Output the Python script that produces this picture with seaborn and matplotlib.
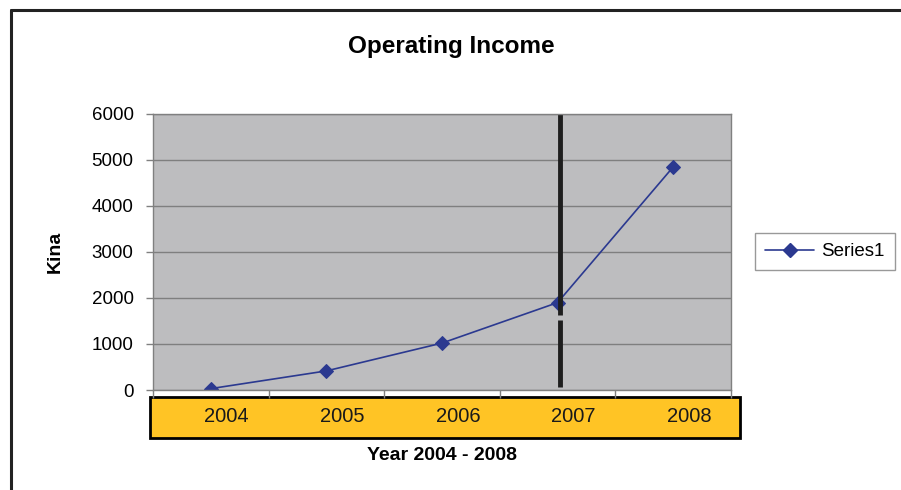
import numpy as np
import pandas as pd
import matplotlib
matplotlib.use("Agg")
import matplotlib.pyplot as plt
import matplotlib.transforms as mtrans
import seaborn as sns
from matplotlib.patches import Rectangle
from matplotlib.lines import Line2D

years = ["2004", "2005", "2006", "2007", "2008"]
income = [30, 415, 1020, 1900, 4850]
y_ticks = [0, 1000, 2000, 3000, 4000, 5000, 6000]

df = pd.DataFrame({"Year": years, "Kina": income})
df["pos"] = np.arange(len(years))

sns.set_style("white")
plt.rcParams["font.family"] = ["Liberation Sans", "DejaVu Sans"]
plt.rcParams["text.color"] = "black"
plt.rcParams["axes.labelcolor"] = "black"
plt.rcParams["xtick.labelcolor"] = "#1a1a1a"
plt.rcParams["ytick.labelcolor"] = "black"

fig = plt.figure(figsize=(9.01, 4.90), dpi=100)
ax = fig.add_axes([153 / 901, 1 - 390 / 490, 578 / 901, 276 / 490])

navy = "#2B3990"
ax.set_facecolor("#BDBDBF")

sns.lineplot(data=df, x="pos", y="Kina", ax=ax, color=navy, linewidth=1.2,
             marker="D", markersize=7, markeredgecolor=navy, label="Series1",
             legend=False)

ax.set_xlim(-0.5, len(years) - 0.5)
ax.set_ylim(0, 6000)
ax.set_yticks(y_ticks)
ax.set_yticklabels([str(v) for v in y_ticks], fontsize=13.5)
ax.yaxis.grid(True, color="#7F7F7F", linewidth=1)
ax.set_axisbelow(True)
for s in ax.spines.values():
    s.set_color("#808080")
    s.set_linewidth(1)
ax.tick_params(axis="y", length=5, width=1, color="#808080", pad=9, left=True)

# category labels inside an orange band (pasted slightly to the right)
ax.set_xticks(df["pos"])
ax.set_xticklabels(years, fontsize=14.5)
ax.tick_params(axis="x", length=0, pad=12)
shift = mtrans.ScaledTranslation(16 / 100, 0, fig.dpi_scale_trans)
for lbl in ax.get_xticklabels():
    lbl.set_transform(lbl.get_transform() + shift)
ax.set_xticks(np.arange(len(years) + 1) - 0.5, minor=True)
ax.tick_params(axis="x", which="minor", length=6, width=1, color="#808080", bottom=True)

band = Rectangle((-3 / 578, -48 / 276), 590 / 578, 41 / 276, transform=ax.transAxes,
                 facecolor="#FFC425", edgecolor="black", linewidth=2, clip_on=False, zorder=0)
ax.add_patch(band)

# thick black marker line near 2007
ax.axvline(3.02, ymin=0.27, ymax=1.0, color="#1E1E1E", linewidth=3.5, solid_capstyle="butt")
ax.axvline(3.02, ymin=0.01, ymax=0.252, color="#1E1E1E", linewidth=3.5, solid_capstyle="butt")

ax.set_xlabel("Year 2004 - 2008", fontsize=14, fontweight="bold")
ax.set_ylabel("Kina", fontsize=14, fontweight="bold")
ax.xaxis.set_label_coords(0.5, -0.207)
ax.yaxis.set_label_coords(-0.154, 0.5)

fig.text(451 / 901, 1 - 46 / 490, "Operating Income", ha="center", va="center",
         fontsize=17.5, fontweight="bold")

handle = Line2D([], [], color=navy, linewidth=1.2, marker="D", markersize=7,
                markeredgecolor=navy)
leg = fig.legend([handle], ["Series1"], loc="center", bbox_to_anchor=(825 / 901, 1 - 251.5 / 490),
                 fontsize=13.5, frameon=True, fancybox=False, handlelength=2.6,
                 borderpad=0.55, handletextpad=0.4)
leg.get_frame().set_edgecolor("#808080")
leg.get_frame().set_linewidth(1)

# outer frame of the chart
fig.add_artist(Line2D([11 / 901, 1], [1 - 10 / 490, 1 - 10 / 490], transform=fig.transFigure,
                      color="#222222", linewidth=2.2))
fig.add_artist(Line2D([11 / 901, 11 / 901], [1 - 10 / 490, 0], transform=fig.transFigure,
                      color="#222222", linewidth=2.2))

fig.savefig("out.png", dpi=100)
